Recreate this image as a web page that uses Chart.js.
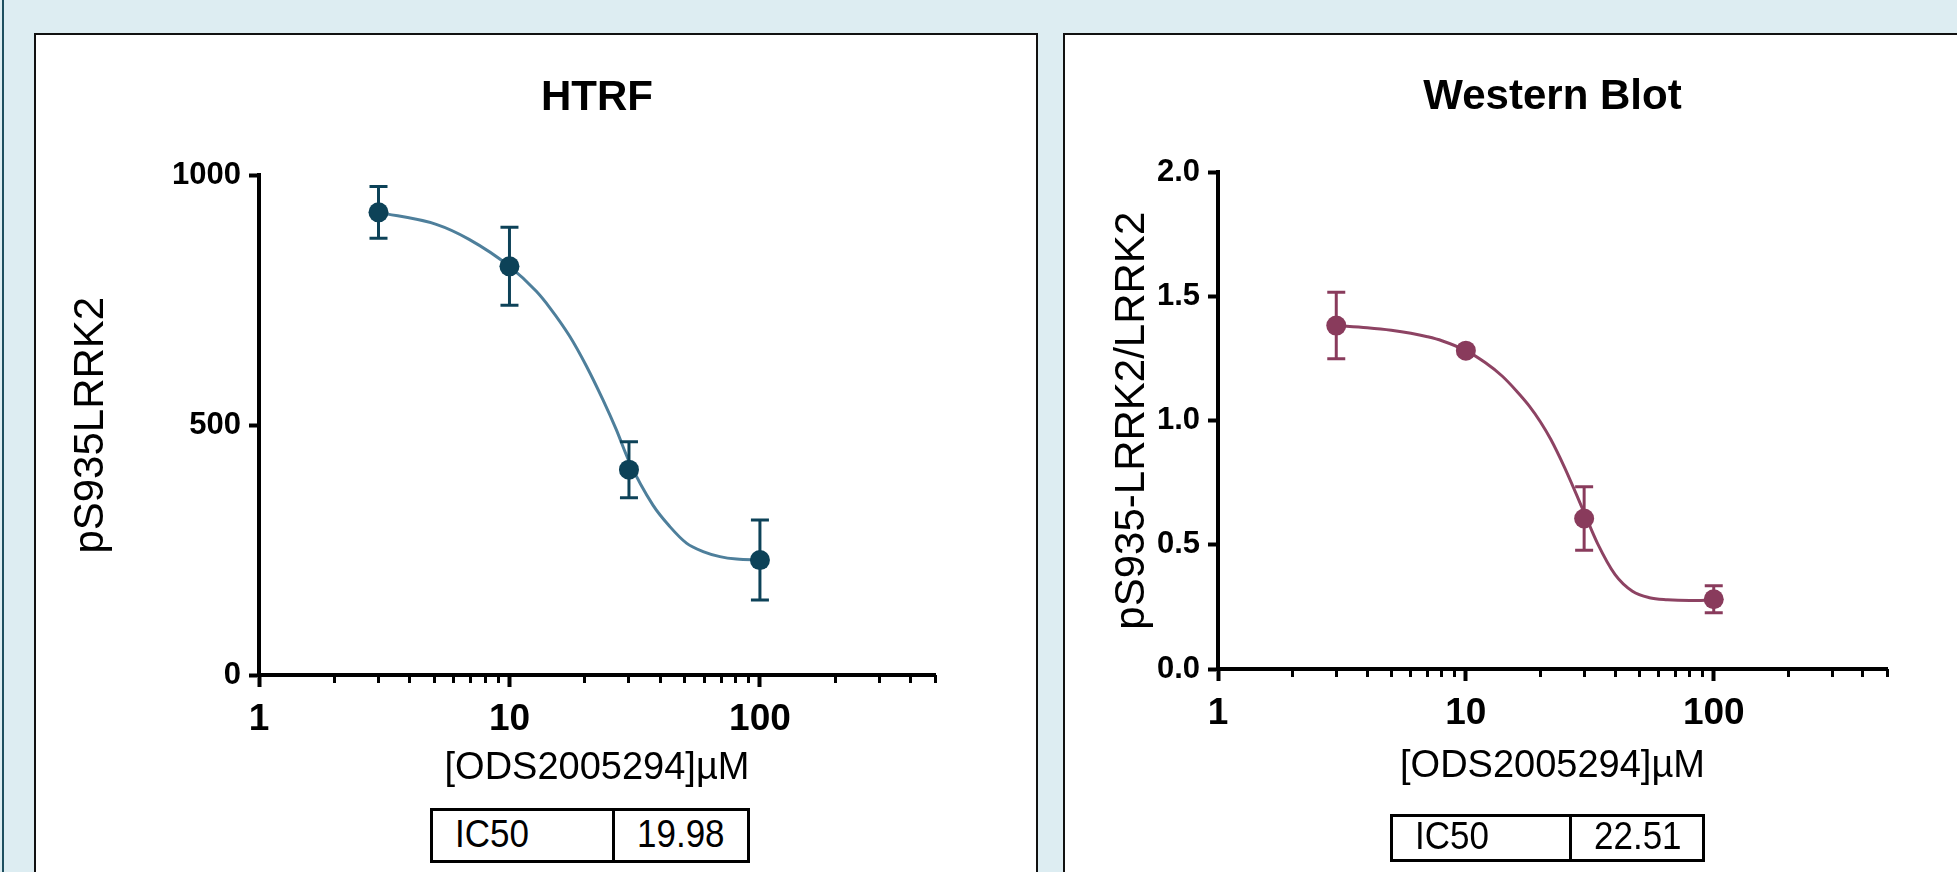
<!DOCTYPE html>
<html>
<head>
<meta charset="utf-8">
<title>ODS2005294 dose response</title>
<script src="https://cdn.jsdelivr.net/npm/chart.js@4.4.1/dist/chart.umd.min.js"></script>
<style>
  html, body { margin: 0; padding: 0; }
  body {
    width: 1957px; height: 872px; overflow: hidden; position: relative;
    background: #ddedf2;
    font-family: "Liberation Sans", Arial, sans-serif;
  }
  .edge { position: absolute; left: 2px; top: 0; width: 2px; height: 872px; background: #1d4f60; }
  .panel {
    position: absolute; top: 33px; height: 900px;
    background: #fff; border: 2px solid #111; box-sizing: border-box;
  }
  .panel canvas { position: absolute; left: 0; top: 0; }
  .ic50 {
    position: absolute; display: flex; box-sizing: border-box;
    border: 3px solid #000; background: #fff; color: #000; font-size: 35px;
  }
  .ic50 div { display: flex; align-items: center; padding-left: 22px; padding-bottom: 4px; box-sizing: border-box; }
  .ic50 span { display: inline-block; transform: scaleY(1.12); }
  .ic50 .name { border-right: 3px solid #000; }
</style>
</head>
<body>
<div class="edge"></div>
<div class="panel" style="left:34px; width:1004px;">
  <canvas id="htrfChart" width="1000" height="837"></canvas>
</div>
<div class="panel" style="left:1063px; width:1000px;">
  <canvas id="wbChart" width="892" height="837"></canvas>
</div>
<div class="ic50" style="left:430px; top:808px; width:320px; height:55px;">
  <div class="name" style="width:182px;"><span>IC50</span></div><div><span>19.98</span></div>
</div>
<div class="ic50" style="left:1390px; top:814px; width:315px; height:48px;">
  <div class="name" style="width:179px;"><span>IC50</span></div><div><span>22.51</span></div>
</div>

<script>
// Dose (µM) of ODS2005294
const doses = [3, 10, 30, 100];

// HTRF: mean and error bar half-height
const htrfMean = [926, 818, 411, 230];
const htrfErr = [52, 78, 56, 80];
// fitted curve
const htrfCurveX = [3, 5.1, 6.9, 10, 12.8, 14.5, 17.4, 20.3, 23.6, 26.7, 30, 37.4, 43.7, 50.9, 59.3, 69.2, 80.7, 100];
const htrfCurveY = [926, 902, 872, 818, 768, 735, 678, 618, 551, 491, 428, 340, 297, 264, 247, 237, 232, 230];

// Western blot: mean and error bar half-height
const wbMean = [1.383, 1.282, 0.606, 0.281];
const wbErr = [0.134, 0.01, 0.128, 0.054];
const wbCurveX = [3, 4, 5, 6, 7, 8, 10, 12, 14, 16, 18, 20, 22, 25, 28, 30, 34, 40, 47, 55, 65, 80, 100];
const wbCurveY = [1.383, 1.374, 1.364, 1.352, 1.338, 1.322, 1.282, 1.233, 1.18, 1.12, 1.06, 0.995, 0.925, 0.812, 0.70, 0.63, 0.505, 0.38, 0.313, 0.287, 0.279, 0.276, 0.278];

// Axis ticks
const xMajorTicks = [1, 10, 100];
const xMinorTicks = [2, 3, 4, 5, 6, 7, 8, 9, 20, 30, 40, 50, 60, 70, 80, 90, 200, 300, 400, 500];
const htrfYTicks = [0, 500, 1000];
const wbYTicks = [0, 0.5, 1.0, 1.5, 2.0];

const FONT = '"Liberation Sans", Arial, sans-serif';
Chart.defaults.color = '#000';
Chart.defaults.font.family = FONT;

// Build one dose-response panel
function buildChart(canvasId, s) {
    // error bars: low, high, gap
    const errorPoints = [];
    doses.forEach((x, i) => {
        errorPoints.push({ x: x, y: s.mean[i] - s.err[i] });
        errorPoints.push({ x: x, y: s.mean[i] + s.err[i] });
        errorPoints.push({ x: x, y: null });
    });

    return new Chart(document.getElementById(canvasId), {
        type: 'line',
        data: {
            datasets: [
                {
                    data: doses.map((x, i) => ({ x: x, y: s.mean[i] })),
                    showLine: false,
                    pointRadius: 10,
                    pointBackgroundColor: s.dotColor,
                    pointBorderWidth: 0
                },
                {
                    data: errorPoints,
                    borderColor: s.dotColor,
                    borderWidth: 3,
                    spanGaps: false,
                    pointStyle: 'line',
                    pointRadius: 9,
                    pointBorderColor: s.dotColor,
                    pointBorderWidth: 3
                },
                {
                    data: s.curveX.map((x, i) => ({ x: x, y: s.curveY[i] })),
                    borderColor: s.lineColor,
                    borderWidth: 3,
                    pointRadius: 0,
                    cubicInterpolationMode: 'monotone'
                }
            ]
        },
        options: {
            responsive: false,
            animation: false,
            layout: { padding: s.pad },
            plugins: {
                legend: { display: false },
                tooltip: { enabled: false },
                title: {
                    display: true,
                    text: s.title,
                    fullSize: false,
                    font: { size: 42, weight: 'bold' },
                    padding: s.titlePad
                }
            },
            scales: {
                x: {
                    type: 'logarithmic',
                    min: 1,
                    max: 500,
                    afterBuildTicks: (scale) => { scale.ticks = xMajorTicks.map(v => ({ value: v })); },
                    afterFit: (scale) => { scale.height = s.xHeight; },
                    ticks: {
                        callback: (v) => String(v),
                        font: { size: 37, weight: 'bold' },
                        padding: 11,
                        maxRotation: 0,
                        autoSkip: false
                    },
                    grid: { drawOnChartArea: false, tickLength: 12, tickWidth: 4, tickColor: '#000' },
                    border: { width: 4, color: '#000' },
                    title: {
                        display: true,
                        text: '[ODS2005294]µM',
                        font: { size: 38 },
                        padding: { top: 0, bottom: 10 }
                    }
                },
                xm: {
                    type: 'logarithmic',
                    axis: 'x',
                    position: { y: 0 },
                    min: 1,
                    max: 500,
                    afterBuildTicks: (scale) => { scale.ticks = xMinorTicks.map(v => ({ value: v })); },
                    ticks: { callback: () => '', autoSkip: false, maxRotation: 0 },
                    grid: { drawOnChartArea: false, tickLength: 8, tickWidth: 3, tickColor: '#000' },
                    border: { display: false }
                },
                y: {
                    type: 'linear',
                    min: s.yTicks[0],
                    max: s.yTicks[s.yTicks.length - 1],
                    afterBuildTicks: (scale) => { scale.ticks = s.yTicks.map(v => ({ value: v })); },
                    afterFit: (scale) => { scale.width = s.yWidth; },
                    ticks: {
                        callback: s.yFormat,
                        font: { size: 31, weight: 'bold' },
                        padding: 8
                    },
                    grid: { drawOnChartArea: false, tickLength: 10, tickWidth: 4, tickColor: '#000' },
                    border: { width: 4, color: '#000' },
                    title: {
                        display: true,
                        text: s.yTitle,
                        font: { size: 42 },
                        padding: { top: s.yTitleGap, bottom: 0 }
                    }
                }
            }
        }
    });
}

buildChart('htrfChart', {
    title: 'HTRF',
    yTitle: 'pS935LRRK2',
    mean: htrfMean,
    err: htrfErr,
    curveX: htrfCurveX,
    curveY: htrfCurveY,
    yTicks: htrfYTicks,
    yFormat: (v) => String(v),
    dotColor: '#0d4258',
    lineColor: '#4e7f9b',
    pad: { left: 10, right: 101, top: 0, bottom: 71 },
    titlePad: { top: 38, bottom: 52 },
    xHeight: 126,
    yWidth: 213,
    yTitleGap: 20
});

buildChart('wbChart', {
    title: 'Western Blot',
    yTitle: 'pS935-LRRK2/LRRK2',
    mean: wbMean,
    err: wbErr,
    curveX: wbCurveX,
    curveY: wbCurveY,
    yTicks: wbYTicks,
    yFormat: (v) => v.toFixed(1),
    dotColor: '#893b5c',
    lineColor: '#8d4363',
    pad: { left: 10, right: 70, top: 0, bottom: 73 },
    titlePad: { top: 37, bottom: 50 },
    xHeight: 130,
    yWidth: 143,
    yTitleGap: 32
});
</script>
</body>
</html>
